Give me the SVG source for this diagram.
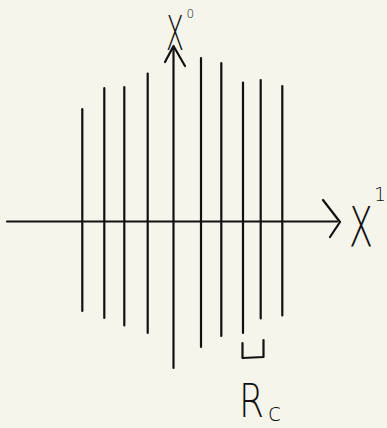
<svg xmlns="http://www.w3.org/2000/svg" width="387" height="428" viewBox="0 0 387 428">
  <style>
    .ink { stroke: #111; stroke-width: 2.2; fill: none; stroke-linecap: round; stroke-linejoin: round; }
    .lbl { font-family: "DejaVu Sans", "Liberation Sans", sans-serif; font-weight: 200; fill: #111; }
  </style>
  <rect width="387" height="428" fill="#f6f5ec"/>
  <g id="axes">
    <line class="ink" x1="173.5" y1="47" x2="173.5" y2="368"/>
    <polyline class="ink" points="165,62 173.5,46 185,66"/>
    <line class="ink" x1="7" y1="221.5" x2="337" y2="221.5"/>
    <polyline class="ink" points="323,200 340,222 330,237"/>
  </g>
  <g id="lines">
    <line class="ink" x1="82.3" y1="109" x2="82.3" y2="311"/>
    <line class="ink" x1="104.3" y1="88" x2="104.3" y2="318"/>
    <line class="ink" x1="124.3" y1="87" x2="124.3" y2="325.5"/>
    <line class="ink" x1="147.7" y1="73.5" x2="147.7" y2="333"/>
    <line class="ink" x1="201" y1="58" x2="201" y2="347"/>
    <line class="ink" x1="221.3" y1="63" x2="221.3" y2="336"/>
    <line class="ink" x1="243" y1="82.5" x2="243" y2="333"/>
    <line class="ink" x1="260.7" y1="80" x2="260.7" y2="318.5"/>
    <line class="ink" x1="282.3" y1="86" x2="282.3" y2="315.5"/>
  </g>
  <g id="bracket">
    <polyline class="ink" points="242.5,343 242.5,358 263.5,357 263.5,340"/>
  </g>
  <g id="label-x0">
    <text class="lbl" x="166" y="50" font-size="48"><tspan textLength="18" lengthAdjust="spacingAndGlyphs">X</tspan><tspan x="186.5" y="17.5" font-size="12">0</tspan></text>
  </g>
  <g id="label-x1">
    <text class="lbl" x="349" y="246" font-size="56"><tspan textLength="24" lengthAdjust="spacingAndGlyphs">X</tspan><tspan x="374" y="201" font-size="19">1</tspan></text>
  </g>
  <g id="label-rc">
    <text class="lbl" x="239" y="417" font-size="46"><tspan textLength="25" lengthAdjust="spacingAndGlyphs">R</tspan><tspan x="268" y="421" font-size="24">c</tspan></text>
  </g>
</svg>
